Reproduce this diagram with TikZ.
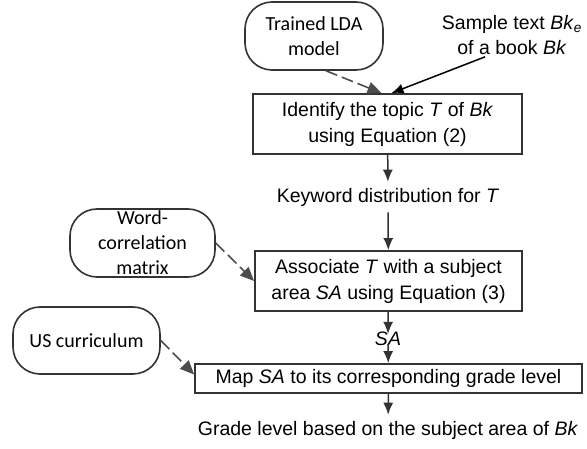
\documentclass[tikz,border=0pt]{standalone}
\usepackage{fontspec}
\setmainfont{Liberation Sans}
\newfontfamily\arialfont{Liberation Sans}
\newfontfamily\calfont{Carlito}
\usetikzlibrary{arrows.meta,shapes}
\definecolor{edge}{rgb}{0.2,0.2,0.2}
\definecolor{feedc}{rgb}{0.3,0.3,0.3}
\tikzstyle{rbox}=[draw=edge, line width=1.6pt, rounded corners=27pt, align=center, inner sep=0pt, font=\calfont\fontsize{20}{25}\selectfont]
\tikzstyle{pbox}=[draw=edge, line width=1.8pt, align=center, inner sep=0pt, font=\arialfont\fontsize{19.5}{26}\selectfont]
\tikzstyle{lbl}=[align=center, inner xsep=2pt, inner ysep=6pt, font=\arialfont\fontsize{19.5}{25}\selectfont]
\tikzstyle{flow}=[-{Latex[length=12pt,width=10pt]}, line width=1.5pt, draw=edge]
\tikzstyle{feed}=[-{Triangle[length=14pt,width=12pt]}, dash pattern=on 12pt off 5pt, line width=1.6pt, draw=feedc]

\begin{document}
\begin{tikzpicture}[x=1pt,y=-1pt]
\useasboundingbox (0,0) rectangle (587,449);
\node[rbox, minimum width=138pt, minimum height=68pt] (lda) at (314,36) {Trained LDA\\model};
\node[lbl, inner ysep=2pt] (sample) at (512,35) {Sample text \textit{Bk}\textsubscript{\textit{e}}\\of a book \textit{Bk}};
\node[pbox, minimum width=269pt, minimum height=60pt] (ident) at (387.5,124) {Identify the topic \textit{T} of \textit{Bk}\\using Equation (2)};
\node[lbl] (kw) at (388,197) {Keyword distribution for \textit{T}};
\node[rbox, minimum width=145pt, minimum height=68pt] (word) at (142.5,243) {Word-\\correlation\\matrix};
\node[pbox, minimum width=267pt, minimum height=60pt] (assoc) at (388.5,281) {Associate \textit{T} with a subject\\area \textit{SA} using Equation (3)};
\node[lbl, inner ysep=-2pt] (sa) at (388,339) {\textit{SA}};
\node[rbox, minimum width=147pt, minimum height=67pt] (us) at (86.5,340.5) {US curriculum};
\node[pbox, minimum width=387pt, minimum height=29pt] (map) at (388.5,378.5) {Map \textit{SA} to its corresponding grade level};
\node[lbl] (grade) at (388,430) {Grade level based on the subject area of \textit{Bk}};
% inputs
\draw[feed] ([xshift=12pt]lda.south) -- ([xshift=-6pt]ident.north);
\draw[-{Latex[length=12pt,width=10pt]}, line width=1.5pt] ([xshift=-27pt]sample.south) -- ([xshift=4pt]ident.north);
\draw[feed] (word.east) -- (assoc.west);
\draw[feed] (us.east) -- ([yshift=4pt]map.west);
% main flow
\draw[flow] (ident) -- (kw);
\draw[flow] (kw) -- (assoc);
\draw[flow] (assoc) -- (sa);
\draw[flow] (sa) -- (map);
\draw[flow] (map) -- (grade);
\end{tikzpicture}
\end{document}
